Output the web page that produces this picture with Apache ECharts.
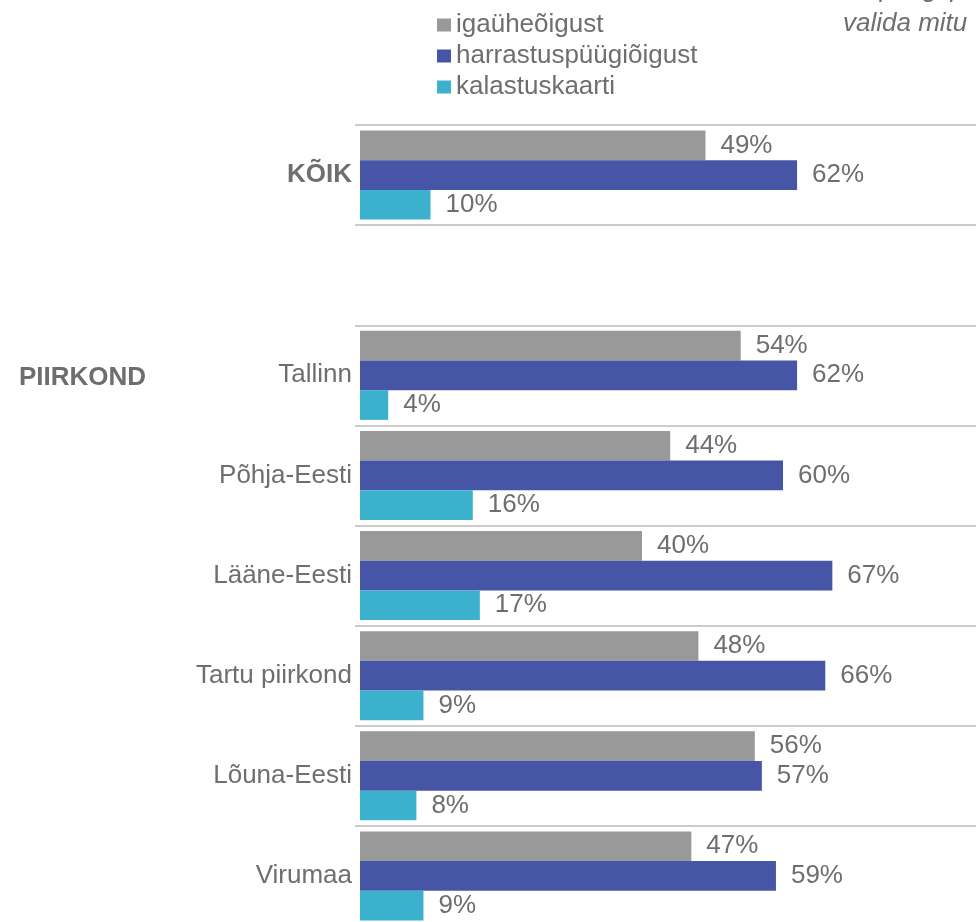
<!DOCTYPE html>
<html>
<head>
<meta charset="utf-8">
<script src="https://cdn.jsdelivr.net/npm/echarts@6/dist/echarts.min.js"></script>
<style>
  html, body { margin: 0; padding: 0; background: #fff; }
  #chart { width: 976px; height: 922px; }
</style>
</head>
<body>
<div id="chart"></div>
<script>
// andmed
var categories = ['KÕIK', '', 'Tallinn', 'Põhja-Eesti', 'Lääne-Eesti', 'Tartu piirkond', 'Lõuna-Eesti', 'Virumaa']
var seriesNames = ['igaüheõigust', 'harrastuspüügiõigust', 'kalastuskaarti']
var igayheoigust = [49, null, 54, 44, 40, 48, 56, 47]
var harrastuspyygioigust = [62, null, 62, 60, 67, 66, 57, 59]
var kalastuskaarti = [10, null, 4, 16, 17, 9, 8, 9]
var colors = ['#999999', '#4755a6', '#3cb1ce']

var textColor = '#6e6e6e'
var fontFamily = 'Liberation Sans, Arial, sans-serif'

function makeSeries(name, data, color) {
    return {
        name: name,
        type: 'bar',
        data: data,
        barWidth: 29.7,
        barGap: '0%',
        itemStyle: { color: color },
        label: {
            show: true,
            position: 'right',
            distance: 15,
            color: textColor,
            fontSize: 26,
            fontFamily: fontFamily,
            formatter: '{c}%'
        }
    }
}

var option = {
    animation: false,
    textStyle: { fontFamily: fontFamily },
    legend: {
        orient: 'vertical',
        left: 437,
        top: 12,
        padding: 0,
        itemGap: 5,
        itemWidth: 14,
        itemHeight: 13,
        icon: 'rect',
        data: seriesNames,
        textStyle: { color: textColor, fontSize: 26, fontFamily: fontFamily }
    },
    grid: {
        left: 360,
        top: 125,
        width: 705,
        height: 801,
        outerBoundsMode: 'none'
    },
    xAxis: {
        type: 'value',
        min: 0,
        max: 100,
        show: false
    },
    yAxis: {
        type: 'category',
        inverse: true,
        data: categories,
        axisLine: { show: false },
        axisTick: {
            show: true,
            length: 5,
            interval: 0,
            lineStyle: { color: '#cccccc', width: 2 }
        },
        splitLine: {
            show: true,
            interval: 0,
            lineStyle: { color: '#cccccc', width: 2 }
        },
        axisLabel: {
            margin: 8,
            interval: 0,
            color: textColor,
            fontSize: 26,
            fontFamily: fontFamily,
            formatter: function(v, i) {
                return i === 0 ? '{b|' + v + '}' : v
            },
            rich: {
                b: { fontWeight: 'bold', fontSize: 26, color: textColor, fontFamily: fontFamily }
            }
        }
    },
    graphic: [
        {
            type: 'text',
            left: 19,
            top: 365,
            style: { text: 'PIIRKOND', fill: textColor, font: 'bold 26px ' + fontFamily }
        },
        {
            type: 'text',
            left: 832,
            top: -23,
            style: { text: 'kalapüügi puhul sai', fill: textColor, font: 'italic 26px ' + fontFamily }
        },
        {
            type: 'text',
            left: 843,
            top: 11,
            style: { text: 'valida mitu vastust', fill: textColor, font: 'italic 26px ' + fontFamily }
        }
    ],
    series: [
        makeSeries(seriesNames[0], igayheoigust, colors[0]),
        makeSeries(seriesNames[1], harrastuspyygioigust, colors[1]),
        makeSeries(seriesNames[2], kalastuskaarti, colors[2])
    ]
}

var chart = echarts.init(document.getElementById('chart'))
chart.setOption(option)
window.addEventListener('resize', function() {
    chart.resize()
})
</script>
</body>
</html>
